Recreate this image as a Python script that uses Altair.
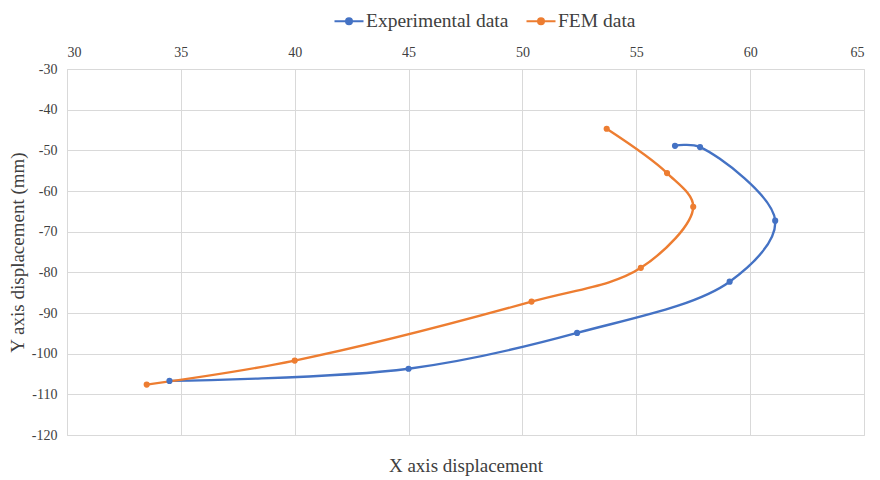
import altair as alt
import pandas as pd

series_names = ["Experimental data", "FEM data"]
exp_x = [56.7, 57.8, 61.1, 59.1, 52.4, 45.0, 34.5]
exp_y = [-48.9, -49.2, -67.3, -82.3, -94.9, -103.7, -106.7]
fem_x = [53.7, 56.35, 57.5, 55.2, 50.4, 40.0, 33.5]
fem_y = [-44.7, -55.6, -63.9, -78.9, -87.2, -101.7, -107.6]
x_ticks = [30, 35, 40, 45, 50, 55, 60, 65]
y_ticks = [-30, -40, -50, -60, -70, -80, -90, -100, -110, -120]

rows = []
for i, (x, y) in enumerate(zip(exp_x, exp_y)):
    rows.append({"series": series_names[0], "x": x, "y": y, "i": i})
for i, (x, y) in enumerate(zip(fem_x, fem_y)):
    rows.append({"series": series_names[1], "x": x, "y": y, "i": i})
df = pd.DataFrame(rows)

FONT = "Liberation Serif, Times New Roman, serif"
TXT = "#404040"
color = alt.Color(
    "series:N",
    scale=alt.Scale(domain=series_names, range=["#4472C4", "#ED7D31"]),
    legend=alt.Legend(
        title=None, orient="none", direction="horizontal",
        legendX=266, legendY=-64,
        symbolType="M-1,0L1,0M-0.2,0A0.2,0.2 0 1,1 0.2,0A0.2,0.2 0 1,1 -0.2,0Z",
        symbolSize=841, symbolStrokeWidth=2.2, symbolFillColor="transparent",
        labelFont=FONT, labelFontSize=19.5, labelColor=TXT,
        columnPadding=13, labelOffset=1,
    ),
)

xs = alt.Scale(domain=[30, 65], nice=False, zero=False)
ys = alt.Scale(domain=[-120, -30], nice=False, zero=False)

base = alt.Chart(df)

line = base.mark_line(interpolate="catmull-rom", strokeWidth=2.4).encode(
    x=alt.X("x:Q", scale=xs, axis=alt.Axis(orient="top", values=x_ticks, title=None,
            labelFont=FONT, labelFontSize=14, labelColor=TXT, labelPadding=10,
            labelExpr="toString(datum.value)",
            ticks=False, domain=False, grid=True, gridColor="#D9D9D9")),
    y=alt.Y("y:Q", scale=ys, axis=alt.Axis(values=y_ticks, title="Y axis displacement (mm)",
            labelFont=FONT, labelFontSize=14, labelColor=TXT, labelPadding=10,
            labelExpr="toString(datum.value)",
            titleFont=FONT, titleFontSize=19, titleFontWeight="normal", titleColor=TXT,
            titlePadding=4, ticks=False, domain=True, domainColor="#D9D9D9",
            grid=True, gridColor="#D9D9D9")),
    color=color,
    order="i:Q",
)

pts = base.mark_circle(size=38, opacity=1).encode(
    x=alt.X("x:Q", scale=xs, axis=alt.Axis(orient="bottom", title="X axis displacement",
            labels=False, ticks=False, domain=False, grid=False,
            titleFont=FONT, titleFontSize=19, titleFontWeight="normal", titleColor=TXT,
            titlePadding=21)),
    y=alt.Y("y:Q", scale=ys),
    color=alt.Color("series:N", scale=alt.Scale(domain=series_names, range=["#4472C4", "#ED7D31"]), legend=None),
)

chart = alt.layer(line, pts).resolve_axis(x="independent").properties(
    width=797, height=366,
    autosize=alt.AutoSizeParams(type="none"),
    padding={"left": 59, "top": 61, "right": 8, "bottom": 48},
).configure_view(stroke=None).configure(background="white")

chart.save("out.html", embed_options={"renderer": "svg", "actions": False})
